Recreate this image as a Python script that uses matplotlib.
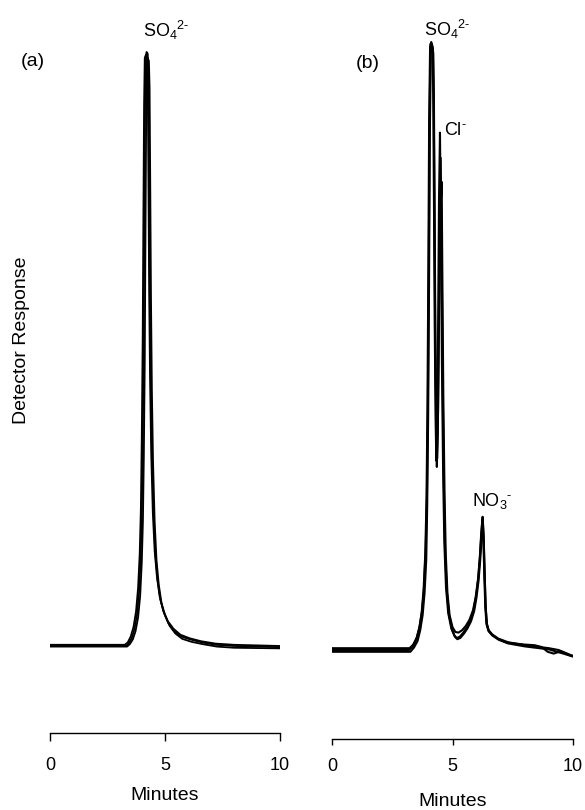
import matplotlib
matplotlib.use("Agg")
import matplotlib.pyplot as plt

plt.rcParams['font.family'] = ['Liberation Sans', 'DejaVu Sans']
plt.rcParams['mathtext.fontset'] = 'custom'
plt.rcParams['mathtext.rm'] = 'Liberation Sans'
plt.rcParams['mathtext.it'] = 'Liberation Sans'
plt.rcParams['mathtext.default'] = 'regular'

# ---------------- data ----------------
# Panel (a): three overlaid chromatogram runs (time in minutes, detector response in arbitrary units)
a1_t = [0, 3.30, 3.42, 3.55, 3.67, 3.78, 3.87, 3.94, 3.99, 4.03, 4.07, 4.10, 4.13, 4.16, 4.20, 4.25, 4.28, 4.31, 4.34, 4.38,
        4.43, 4.50, 4.58, 4.68, 4.80, 4.95, 5.15, 5.40, 5.70, 6.10, 6.60, 7.20, 8.00, 10]
a1_r = [0, 0, 0.4, 1.3, 2.8, 5.2, 9.0, 14.5, 22, 33, 50, 70, 90, 99.3, 100, 99.7, 96, 80, 62, 46,
        33, 22.5, 15.5, 11, 7.8, 5.6, 3.8, 2.5, 1.6, 1.1, 0.6, 0.2, 0.0, -0.2]
a2_t = [0, 3.25, 3.38, 3.51, 3.63, 3.74, 3.83, 3.90, 3.95, 3.99, 4.03, 4.06, 4.09, 4.12, 4.17, 4.22, 4.25, 4.28, 4.31, 4.35,
        4.40, 4.47, 4.55, 4.65, 4.77, 4.92, 5.12, 5.37, 5.67, 6.07, 6.57, 7.20, 8.00, 10]
a2_r = [0.2, 0.2, 0.6, 1.6, 3.2, 5.8, 9.8, 15.5, 23, 35, 52, 72, 91, 99, 99.5, 99, 95, 78, 60, 45,
        32.5, 22.5, 16, 11.6, 8.3, 6.0, 4.2, 2.9, 1.9, 1.3, 0.8, 0.4, 0.2, 0.0]
a3_t = [0, 3.35, 3.47, 3.60, 3.72, 3.83, 3.92, 3.99, 4.04, 4.08, 4.12, 4.15, 4.18, 4.21, 4.25, 4.30, 4.33, 4.36, 4.39, 4.43,
        4.48, 4.55, 4.63, 4.73, 4.85, 5.00, 5.20, 5.45, 5.75, 6.15, 6.65, 7.25, 8.00, 10]
a3_r = [-0.1, -0.1, 0.3, 1.1, 2.5, 4.8, 8.4, 14, 21, 32, 48, 68, 88, 98.5, 99, 98.5, 94, 77, 59, 43,
        31, 21, 14.5, 10.3, 7.2, 5.2, 3.4, 2.1, 1.2, 0.7, 0.3, -0.1, -0.3, -0.4]

# Panel (b): three overlaid runs (sulfate, chloride, nitrate peaks)
b1_t = [0, 3.20, 3.35, 3.50, 3.62, 3.72, 3.80, 3.87, 3.92, 3.96, 4.00, 4.03, 4.07, 4.12, 4.17, 4.20, 4.23, 4.26, 4.30, 4.33,
        4.36, 4.40, 4.44, 4.48, 4.52, 4.56, 4.61, 4.66, 4.73, 4.82, 4.95, 5.08, 5.18, 5.30, 5.45, 5.60, 5.75, 5.88, 5.98, 6.07,
        6.14, 6.20, 6.25, 6.29, 6.33, 6.37, 6.42, 6.50, 6.65, 6.90, 7.30, 8.00, 8.60, 9.00, 9.40, 9.70, 10]
b1_r = [0, 0, 0.6, 1.8, 3.6, 6.2, 10, 16, 25, 40, 65, 88, 100.5, 101.3, 100.5, 93, 75, 55, 38, 31.5,
        36, 52, 75, 86.2, 70, 48, 30, 18, 10.5, 6.2, 3.6, 2.4, 2.0, 2.2, 2.9, 3.8, 5.0, 6.8, 9.0, 12,
        15.5, 19.5, 22.2, 19, 13, 7.5, 4.5, 3.3, 2.6, 1.9, 1.3, 0.8, 0.5, 0.3, 0.0, -0.5, -1.0]
b2_t = [0, 3.22, 3.37, 3.52, 3.64, 3.74, 3.82, 3.89, 3.94, 3.98, 4.02, 4.05, 4.09, 4.14, 4.19, 4.22, 4.25, 4.28, 4.32, 4.35,
        4.39, 4.44, 4.49, 4.55, 4.58, 4.62, 4.67, 4.72, 4.79, 4.88, 5.00, 5.12, 5.25, 5.40, 5.55, 5.70, 5.85, 5.96, 6.06, 6.13,
        6.19, 6.24, 6.28, 6.32, 6.36, 6.41, 6.49, 6.64, 6.90, 7.30, 8.00, 8.40, 8.70, 8.95, 9.20, 9.50, 9.80, 10]
b2_r = [0.3, 0.3, 0.9, 2.1, 4.0, 6.6, 10.5, 17, 26, 42, 67, 89, 101, 101, 100, 92, 74, 54, 37, 30.5,
        36, 55, 72, 78, 62, 42, 26, 16, 9.5, 5.8, 3.8, 3.0, 2.9, 3.3, 4.0, 5.0, 6.6, 8.8, 11.8, 15.3,
        19.3, 21.8, 18.5, 12.5, 7.2, 4.3, 3.2, 2.5, 1.8, 1.2, 0.9, 0.8, 0.5, -0.3, -0.6, -0.2, -0.8, -1.0]
b3_t = [0, 3.25, 3.40, 3.55, 3.66, 3.76, 3.84, 3.91, 3.95, 3.99, 4.03, 4.06, 4.10, 4.15, 4.20, 4.23, 4.26, 4.29, 4.33, 4.36,
        4.40, 4.45, 4.51, 4.55, 4.59, 4.64, 4.69, 4.76, 4.85, 4.98, 5.10, 5.20, 5.32, 5.47, 5.62, 5.77, 5.90, 5.99, 6.08, 6.15,
        6.21, 6.26, 6.30, 6.34, 6.38, 6.43, 6.51, 6.66, 6.92, 7.30, 8.00, 9.00, 9.60, 10]
b3_r = [-0.3, -0.3, 0.4, 1.5, 3.3, 5.8, 9.5, 15, 24, 39, 63, 86, 99.5, 100.5, 99.5, 91, 72, 52, 36, 32,
        40, 62, 82, 66, 45, 28, 17, 10, 6, 3.4, 2.2, 1.8, 2.0, 2.7, 3.6, 4.8, 6.5, 8.6, 11.5, 15,
        19, 21.5, 18, 12, 7, 4.2, 3.1, 2.4, 1.7, 1.1, 0.6, 0.1, -0.6, -1.1]

x_ticks = [0, 5, 10]
x_ticklabels = ['0', '5', '10']

# ---------------- figure ----------------
W, H = 585, 810
fig = plt.figure(figsize=(W / 100, H / 100), dpi=100)

def frac(x0, y_top, x1, y_bot):
    return [x0 / W, 1 - y_bot / H, (x1 - x0) / W, (y_bot - y_top) / H]

axa = fig.add_axes(frac(50, 30, 280, 733))
axb = fig.add_axes(frac(332, 30, 573, 739))

for t, r in [(a1_t, a1_r), (a2_t, a2_r), (a3_t, a3_r)]:
    axa.plot(t, r, color='black', lw=1.3, solid_joinstyle='round')
for t, r in [(b1_t, b1_r), (b2_t, b2_r), (b3_t, b3_r)]:
    axb.plot(t, r, color='black', lw=1.5, solid_joinstyle='round')

axa.set_xlim(0, 10)
axa.set_ylim(-14.65, 103.7)
axb.set_xlim(0, 10)
axb.set_ylim(-14.83, 103.3)

for ax, pad, tl in [(axa, 11.5, 5.5), (axb, 9.5, 4.5)]:
    for s in ['top', 'right', 'left']:
        ax.spines[s].set_visible(False)
    ax.spines['bottom'].set_linewidth(1.0)
    ax.set_yticks([])
    ax.set_xticks(x_ticks)
    ax.set_xticklabels(x_ticklabels)
    ax.tick_params(axis='x', direction='out', length=tl, width=1.0, labelsize=13, pad=pad)
    ax.patch.set_visible(False)

axa.set_xlabel('Minutes', fontsize=14, va='center')
axa.xaxis.set_label_coords(0.5, (733 - 795) / 703)
axb.set_xlabel('Minutes', fontsize=14, va='center')
axb.xaxis.set_label_coords(0.502, (739 - 801) / 709)

axa.set_ylabel('Detector Response', fontsize=14, va='center')
axa.yaxis.set_label_coords((22 - 50) / 230, (733 - 340) / 703)

fig.text(33 / W, 1 - 62 / H, '(a)', fontsize=14, ha='center', va='center')
fig.text(368 / W, 1 - 64 / H, '(b)', fontsize=14, ha='center', va='center')

axa.text(4.04, 102.5, 'SO$_4{}^{2\u2010}$', fontsize=13, ha='left', va='baseline', clip_on=False)
axb.text(3.82, 102.3, 'SO$_4{}^{2\u2010}$', fontsize=13, ha='left', va='baseline', clip_on=False)
axb.text(4.65, 85.8, 'Cl$^{\u2010}$', fontsize=13, ha='left', va='baseline', clip_on=False)
axb.text(5.81, 24.0, 'NO$_3{}^{\u2010}$', fontsize=13, ha='left', va='baseline', clip_on=False)

fig.savefig('out.png', dpi=100)
